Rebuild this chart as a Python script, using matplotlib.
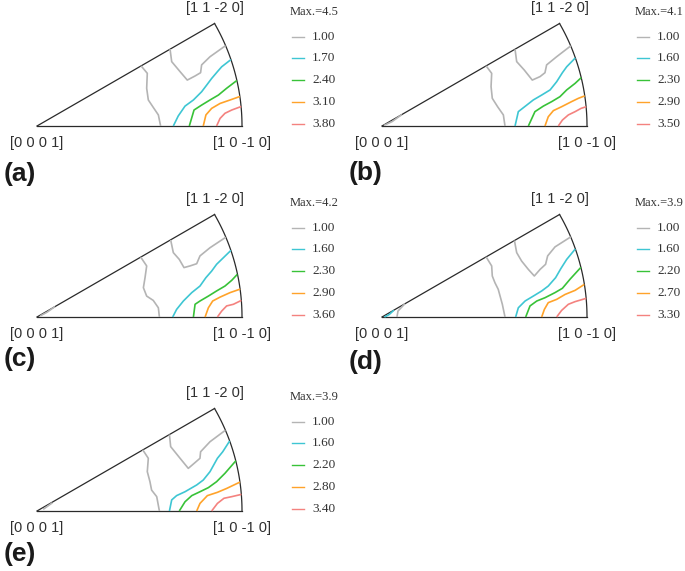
import numpy as np
import matplotlib
matplotlib.use("Agg")
import matplotlib.pyplot as plt

# colours of the five contour levels (low -> high)
LEVEL_COLORS = ["#b4b4b4", "#3ec6d3", "#38c238", "#ffa32a", "#f4827f"]

PANELS = ["(a)", "(b)", "(c)", "(d)", "(e)"]
MAX_VALUES = [4.5, 4.1, 4.2, 3.9, 3.9]
LEVELS = [
    [1.00, 1.70, 2.40, 3.10, 3.80],
    [1.00, 1.60, 2.30, 2.90, 3.50],
    [1.00, 1.60, 2.30, 2.90, 3.60],
    [1.00, 1.60, 2.20, 2.70, 3.30],
    [1.00, 1.60, 2.20, 2.80, 3.40],
]

# contour polylines in sector coordinates (radius of the [1 0 -1 0] arc = 1)
# per panel: one list per level, each level a list of polylines
a_contours = [
    [[(0.508, 0.293), (0.538, 0.257), (0.535, 0.184), (0.543, 0.127), (0.567, 0.091), (0.592, 0.054), (0.603, 0.0)],
     [(0.649, 0.375), (0.657, 0.314), (0.698, 0.265), (0.733, 0.224), (0.771, 0.244), (0.798, 0.260), (0.803, 0.298), (0.844, 0.338), (0.920, 0.392)]],
    [[(0.665, 0.0), (0.689, 0.049), (0.722, 0.097), (0.763, 0.127), (0.803, 0.167), (0.828, 0.200), (0.852, 0.232), (0.880, 0.265), (0.901, 0.289), (0.946, 0.324)]],
    [[(0.743, 0.0), (0.766, 0.078), (0.803, 0.102), (0.844, 0.127), (0.885, 0.151), (0.925, 0.184), (0.975, 0.222)]],
    [[(0.811, 0.0), (0.824, 0.054), (0.852, 0.086), (0.893, 0.110), (0.942, 0.127), (0.990, 0.144)]],
    [[(0.876, 0.0), (0.893, 0.037), (0.917, 0.062), (0.950, 0.078), (0.996, 0.095)]],
]
b_contours = [
    [[(0.508, 0.293), (0.535, 0.257), (0.532, 0.192), (0.538, 0.135), (0.564, 0.094), (0.592, 0.054), (0.600, 0.0)],
     [(0.649, 0.374), (0.657, 0.314), (0.694, 0.273), (0.733, 0.224), (0.771, 0.241), (0.795, 0.260), (0.803, 0.298), (0.852, 0.338), (0.921, 0.391)],
     [(0.010, 0.003), (0.050, 0.022), (0.097, 0.056)]],
    [[(0.649, 0.0), (0.665, 0.070), (0.706, 0.102), (0.738, 0.127), (0.779, 0.151), (0.820, 0.176), (0.852, 0.216), (0.880, 0.260), (0.901, 0.289), (0.943, 0.332)]],
    [[(0.714, 0.0), (0.746, 0.070), (0.787, 0.097), (0.828, 0.119), (0.868, 0.143), (0.901, 0.176), (0.942, 0.208), (0.972, 0.236)]],
    [[(0.795, 0.0), (0.811, 0.045), (0.836, 0.075), (0.876, 0.094), (0.925, 0.119), (0.958, 0.135), (0.989, 0.147)]],
    [[(0.860, 0.0), (0.880, 0.029), (0.909, 0.054), (0.942, 0.070), (0.971, 0.086), (0.996, 0.094)]],
]
c_contours = [
    [[(0.506, 0.292), (0.535, 0.249), (0.527, 0.192), (0.519, 0.143), (0.535, 0.102), (0.567, 0.081), (0.592, 0.045), (0.597, 0.0)],
     [(0.652, 0.376), (0.665, 0.314), (0.694, 0.281), (0.717, 0.241), (0.746, 0.249), (0.779, 0.260), (0.795, 0.298), (0.844, 0.338), (0.921, 0.389)],
     [(0.015, 0.005), (0.050, 0.024), (0.088, 0.051)]],
    [[(0.662, 0.0), (0.681, 0.037), (0.714, 0.078), (0.755, 0.119), (0.795, 0.151), (0.824, 0.192), (0.852, 0.224), (0.876, 0.257), (0.909, 0.289), (0.946, 0.325)]],
    [[(0.763, 0.0), (0.771, 0.062), (0.795, 0.078), (0.836, 0.102), (0.876, 0.127), (0.917, 0.151), (0.950, 0.179), (0.977, 0.208)]],
    [[(0.820, 0.0), (0.836, 0.045), (0.857, 0.078), (0.893, 0.097), (0.942, 0.119), (0.991, 0.136)]],
    [[(0.880, 0.0), (0.901, 0.029), (0.925, 0.054), (0.958, 0.062), (0.997, 0.081)]],
]
d_contours = [
    [[(0.508, 0.293), (0.535, 0.249), (0.538, 0.200), (0.551, 0.167), (0.567, 0.135), (0.576, 0.102), (0.587, 0.062), (0.600, 0.0)],
     [(0.646, 0.373), (0.657, 0.314), (0.681, 0.273), (0.714, 0.232), (0.743, 0.200), (0.771, 0.232), (0.798, 0.257), (0.808, 0.298), (0.844, 0.342), (0.921, 0.391)],
     [(0.073, 0.0), (0.078, 0.029), (0.112, 0.065)]],
    [[(0.652, 0.0), (0.665, 0.045), (0.698, 0.078), (0.738, 0.102), (0.779, 0.127), (0.811, 0.151), (0.847, 0.192), (0.873, 0.237), (0.901, 0.281), (0.943, 0.332)],
     [(0.012, 0.0), (0.035, 0.012), (0.058, 0.033)]],
    [[(0.701, 0.0), (0.722, 0.054), (0.755, 0.078), (0.795, 0.094), (0.844, 0.119), (0.880, 0.140), (0.917, 0.184), (0.970, 0.242)]],
    [[(0.779, 0.0), (0.792, 0.037), (0.811, 0.070), (0.852, 0.086), (0.893, 0.110), (0.942, 0.130), (0.987, 0.159)]],
    [[(0.852, 0.0), (0.876, 0.032), (0.909, 0.062), (0.942, 0.075), (0.996, 0.091)]],
]
e_contours = [
    [[(0.516, 0.298), (0.543, 0.257), (0.538, 0.192), (0.551, 0.143), (0.559, 0.102), (0.584, 0.070), (0.597, 0.0)],
     [(0.646, 0.373), (0.652, 0.314), (0.698, 0.257), (0.738, 0.208), (0.766, 0.232), (0.795, 0.257), (0.798, 0.289), (0.844, 0.338), (0.919, 0.394)],
     [(0.030, 0.008), (0.075, 0.040)]],
    [[(0.646, 0.0), (0.657, 0.054), (0.681, 0.075), (0.722, 0.094), (0.779, 0.127), (0.811, 0.151), (0.844, 0.192), (0.880, 0.257), (0.906, 0.289), (0.940, 0.342)]],
    [[(0.694, 0.0), (0.722, 0.045), (0.755, 0.075), (0.795, 0.094), (0.836, 0.114), (0.876, 0.143), (0.917, 0.184), (0.970, 0.245)]],
    [[(0.779, 0.0), (0.795, 0.037), (0.831, 0.075), (0.880, 0.091), (0.925, 0.110), (0.990, 0.141)]],
    [[(0.852, 0.0), (0.880, 0.037), (0.912, 0.062), (0.950, 0.070), (0.997, 0.081)]],
]
CONTOURS = [a_contours, b_contours, c_contours, d_contours, e_contours]

# layout: pixel position of the [0 0 0 1] corner of each sector, 1 unit = 205 px
W, H, R = 685, 571, 205.0
ORIGINS = [(37, 126), (382, 126), (37, 317), (382, 317), (37, 511)]
TAG_Y = [-0.234, -0.229, -0.205, -0.22, -0.21]
XL, YL = (-0.17, 1.45), (-0.28, 0.60)

SANS = "Liberation Sans"
SERIF = "Liberation Serif"

fig = plt.figure(figsize=(W / 100, H / 100), dpi=100)

for i, (ox, oy) in enumerate(ORIGINS):
    left = (ox + XL[0] * R) / W
    bottom = (H - oy + YL[0] * R) / H
    ax = fig.add_axes([left, bottom, (XL[1] - XL[0]) * R / W, (YL[1] - YL[0]) * R / H])
    ax.set_xlim(*XL)
    ax.set_ylim(*YL)
    ax.axis("off")

    # sector outline: [0001] - [10-10] - arc - [11-20]
    th = np.radians(np.linspace(0, 30, 100))
    ax.plot([0, 1], [0, 0], color="#2a2a2a", lw=0.9)
    ax.plot(np.cos(th), np.sin(th), color="#2a2a2a", lw=0.9)
    ax.plot([0, np.cos(th[-1])], [0, np.sin(th[-1])], color="#2a2a2a", lw=0.9)

    for k, level_lines in enumerate(CONTOURS[i]):
        for line in level_lines:
            xs, ys = zip(*line)
            ax.plot(xs, ys, color=LEVEL_COLORS[k], lw=1.2, solid_capstyle="butt")

    ax.text(0.868, 0.576, "[1 1 -2 0]", family=SANS, fontsize=10.5,
            color="#303030", ha="center", va="center")
    ax.text(0.0, -0.085, "[0 0 0 1]", family=SANS, fontsize=10.5,
            color="#303030", ha="center", va="center")
    ax.text(1.0, -0.085, "[1 0 -1 0]", family=SANS, fontsize=10.5,
            color="#303030", ha="center", va="center")
    ax.text(-0.165, TAG_Y[i], PANELS[i], family=SANS, fontsize=19,
            fontweight="bold", color="#1a1a1a", ha="left", va="center")

    # legend
    ax.text(1.232, 0.556, f"Max.={MAX_VALUES[i]}", family=SERIF, fontsize=9,
            color="#333333", ha="left", va="center")
    rows = [0.434, 0.330, 0.224, 0.117, 0.010]
    for k, lv in enumerate(LEVELS[i]):
        ax.plot([1.245, 1.303], [rows[k], rows[k]], color=LEVEL_COLORS[k], lw=1.0)
        ax.text(1.342, rows[k], f"{lv:.2f}", family=SERIF, fontsize=9.5,
                color="#333333", ha="left", va="center")

fig.savefig("out.png", dpi=100)
